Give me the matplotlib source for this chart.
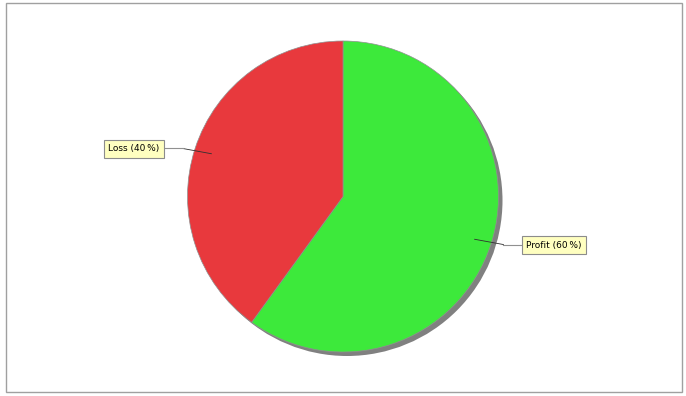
import numpy as np
import matplotlib
matplotlib.use("Agg")
import matplotlib.pyplot as plt
from matplotlib.patches import Rectangle, Circle

categories = ["Profit", "Loss"]
values = [60, 40]
colors = ["#3DE93B", "#E8393D"]

W, H = 686, 396
fig = plt.figure(figsize=(W / 100, H / 100), dpi=100)
ax = fig.add_axes([0, 0, 1, 1])

cx, cy = 343, H - 196.5
r = 155.5

# border
ax.add_patch(Rectangle((5.5, H - 391.5), 676, 389, fill=False,
                       edgecolor="#A0A0A0", lw=1.0))

# shadow
ax.add_patch(Circle((cx + 4, cy - 4), r, facecolor="#808080", edgecolor="none", zorder=1))

wedges, _ = ax.pie(values, colors=colors, startangle=90, counterclock=False,
                   center=(cx, cy), radius=r, frame=True,
                   wedgeprops=dict(edgecolor="#909090", linewidth=0.5, zorder=2))
ax.set_xlim(0, W)
ax.set_ylim(0, H)
ax.set_aspect("equal")
ax.axis("off")

total = sum(values)
for w, cat, v in zip(wedges, categories, values):
    mid = np.deg2rad((w.theta1 + w.theta2) / 2)
    ca, sa = np.cos(mid), np.sin(mid)
    x0, y0 = cx + 0.89 * r * ca, cy + 0.89 * r * sa
    x1, y1 = cx + 1.085 * r * ca, cy + 1.0 * r * sa
    side = 1 if ca >= 0 else -1
    x2 = x1 + side * 19
    ax.plot([x0, x1], [y0, y1], color="#303030", lw=0.6, zorder=3)
    ax.plot([x1, x2], [y1, y1], color="#909090", lw=0.8, zorder=3)
    pct = round(100 * v / total)
    ax.text(x2 + side * 4, y1 - 0.5, f"{cat} ({pct}\u2009%)", fontsize=6.5,
            ha="left" if side > 0 else "right", va="center", zorder=4,
            bbox=dict(boxstyle="square,pad=0.45", facecolor="#FFFFC0",
                      edgecolor="#8C8C8C", lw=0.8))

fig.savefig("out.png", dpi=100)
